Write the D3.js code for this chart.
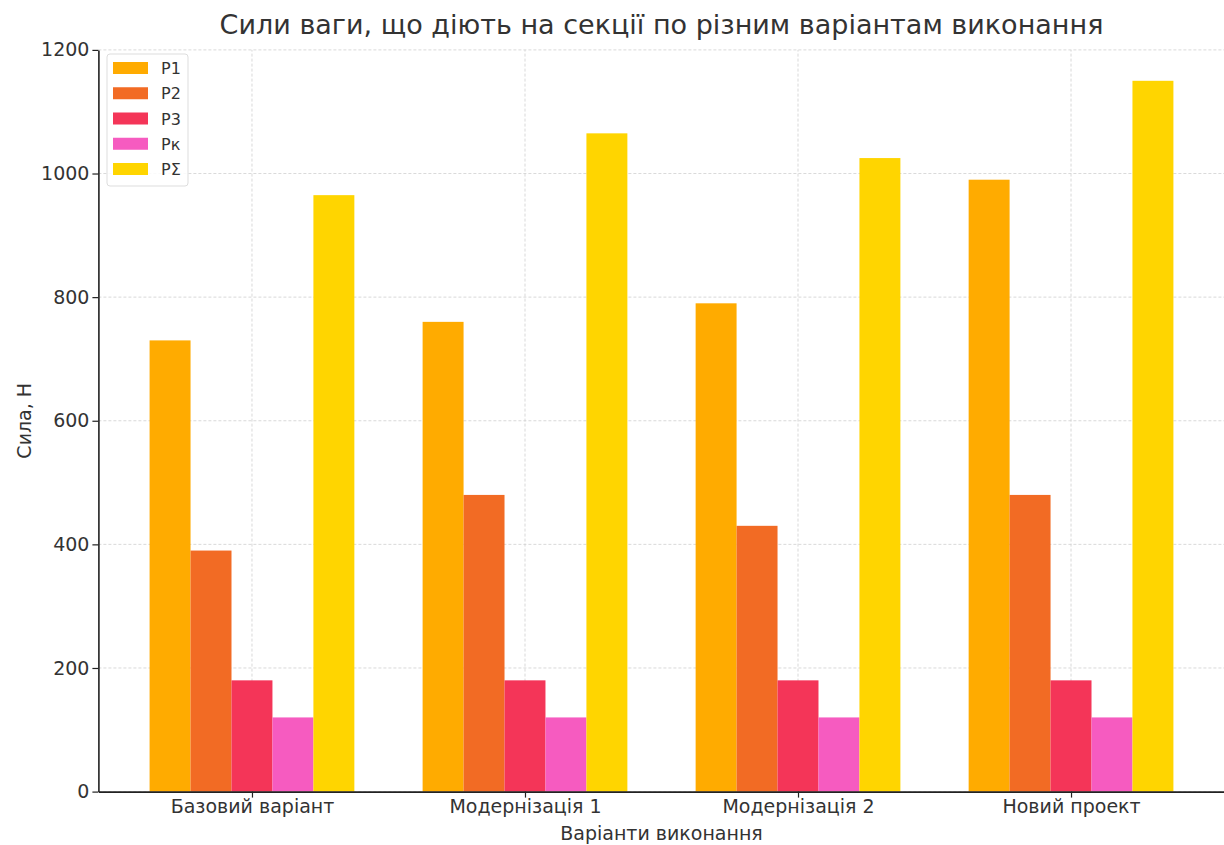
<!DOCTYPE html>
<html>
<head>
<meta charset="utf-8">
<script src="https://cdn.jsdelivr.net/npm/d3@7"></script>
<style>
  body { margin: 0; background: #fff; }
  svg { font-family: "DejaVu Sans", sans-serif; }
</style>
</head>
<body>
<svg id="chart" width="1224" height="845"></svg>
<script>
// Variants of execution (x categories)
const categories = ["Базовий варіант", "Модернізація 1", "Модернізація 2", "Новий проект"];
// Weight forces per variant, N
const seriesNames = ["P1", "P2", "P3", "Pк", "PΣ"];
const P1 = [730, 760, 790, 990];
const P2 = [390, 480, 430, 480];
const P3 = [180, 180, 180, 180];
const Pk = [120, 120, 120, 120];
const PSum = [965, 1065, 1025, 1150];
const seriesValues = [P1, P2, P3, Pk, PSum];
const seriesColors = ["#FFAB00", "#F26B24", "#F43558", "#F65BC0", "#FFD500"];
const yTicks = [0, 200, 400, 600, 800, 1000, 1200];

const svg = d3.select("#chart");
const W = 1224;
const left = 98.4;

// Continuous x in category units, as for a grouped bar plot with side margins
const barW = 0.15;
const x = d3.scaleLinear().domain([-0.5625, 3.5625]).range([left, 1224.6]);
const y = d3.scaleLinear().domain([0, 1200]).range([791.6, 49.9]);

// Grid
const grid = svg.append("g").attr("class", "grid");
grid.selectAll("line.h").data(yTicks).join("line")
  .attr("x1", left).attr("x2", W)
  .attr("y1", d => y(d)).attr("y2", d => y(d))
  .attr("stroke", "#cfcfcf").attr("stroke-width", 0.8).attr("stroke-dasharray", "3,2");
grid.selectAll("line.v").data(categories.map((c, i) => i)).join("line")
  .attr("x1", d => x(d)).attr("x2", d => x(d))
  .attr("y1", y(0)).attr("y2", y(1200))
  .attr("stroke", "#cfcfcf").attr("stroke-width", 0.8).attr("stroke-dasharray", "3,2");

// Bars
const bars = svg.append("g");
seriesValues.forEach((vals, s) => {
  bars.selectAll(null).data(vals).join("rect")
    .attr("x", (d, i) => x(i + (s - 2) * barW - barW / 2))
    .attr("width", x(barW) - x(0))
    .attr("y", d => y(d))
    .attr("height", d => y(0) - y(d))
    .attr("fill", seriesColors[s]);
});

// Axes
const yAxis = d3.axisLeft(y).tickValues(yTicks).tickFormat(d3.format("d"))
  .tickSize(6).tickSizeOuter(0).tickPadding(3);
const yg = svg.append("g").attr("transform", `translate(${left},0)`).call(yAxis);
const xAxis = d3.axisBottom(x).tickValues([0, 1, 2, 3]).tickFormat(i => categories[i])
  .tickSize(6).tickSizeOuter(0).tickPadding(2);
const xg = svg.append("g").attr("transform", `translate(0,${y(0)})`).call(xAxis);
[yg, xg].forEach(g => {
  g.attr("font-family", "DejaVu Sans").attr("font-size", 19);
  g.selectAll("text").attr("fill", "#333");
  g.selectAll("line").attr("stroke", "#222").attr("stroke-width", 1.2);
  g.select(".domain").attr("stroke", "#222").attr("stroke-width", 1.6);
});

// Title and axis labels
svg.append("text").attr("x", 661.5).attr("y", 34).attr("text-anchor", "middle")
  .attr("font-size", 27).attr("fill", "#333").text("Сили ваги, що діють на секції по різним варіантам виконання");
svg.append("text").attr("x", 661.5).attr("y", 840).attr("text-anchor", "middle")
  .attr("font-size", 19).attr("fill", "#333").text("Варіанти виконання");
svg.append("text").attr("transform", `translate(31,${(y(0) + y(1200)) / 2}) rotate(-90)`)
  .attr("text-anchor", "middle").attr("font-size", 19).attr("fill", "#333").text("Сила, Н");

// Legend
const lg = svg.append("g").attr("transform", "translate(107,54)");
lg.append("rect").attr("width", 81).attr("height", 132).attr("rx", 3)
  .attr("fill", "#fff").attr("fill-opacity", 0.85).attr("stroke", "#ddd");
seriesNames.forEach((n, i) => {
  const row = lg.append("g").attr("transform", `translate(0,${14 + i * 25.25})`);
  row.append("rect").attr("x", 6).attr("y", -6).attr("width", 35).attr("height", 12).attr("fill", seriesColors[i]);
  row.append("text").attr("x", 54).attr("y", 6).attr("font-size", 16).attr("fill", "#333").text(n);
});
</script>
</body>
</html>
